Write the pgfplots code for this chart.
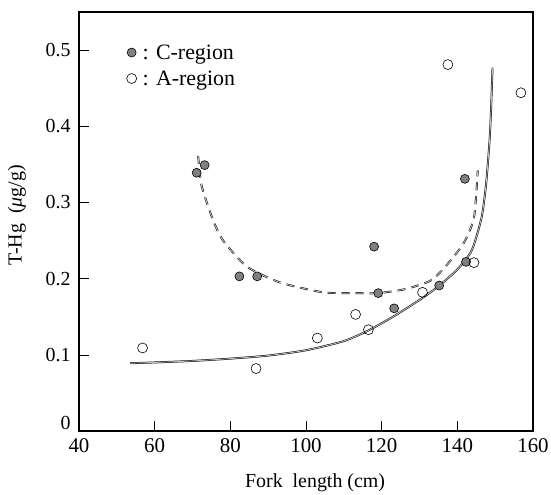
\documentclass[border=0pt]{standalone}
\usepackage{fontspec}
\setmainfont{Liberation Serif}
\usepackage{pgfplots}
\pgfplotsset{compat=1.18}

\newcommand{\xtfont}{\fontsize{21}{24}\selectfont}
\newcommand{\ytfont}{\fontsize{20}{23}\selectfont}
\newcommand{\labfont}{\fontsize{20}{23}\selectfont}
\newcommand{\legfont}{\fontsize{22}{25}\selectfont}

\begin{document}
\begin{tikzpicture}
\begin{axis}[
  scale only axis,
  width=454bp, height=419bp,
  xmin=40, xmax=160, ymin=0, ymax=0.55,
  xtick={40,60,80,100,120,140,160},
  ytick={0.1,0.2,0.3,0.4,0.5},
  extra y ticks={0},
  extra y tick style={yticklabel style={yshift=8bp}},
  tick pos=left,
  tick align=inside,
  major tick length=10bp,
  axis line style={line width=1.1pt},
  every tick/.style={black, line width=0.6pt},
  /pgf/number format/assume math mode=true,
  yticklabel style={/pgf/number format/fixed, /pgf/number format/precision=1, font=\ytfont, xshift=-5bp},
  xticklabel style={font=\xtfont, yshift=-4bp},
  xlabel={Fork\ \ length (cm)},
  ylabel={T-Hg\ \ (\textit{μ}g/g)},
  xlabel style={font=\labfont, at={(axis description cs:0.52,-0.124)}, anchor=center},
  ylabel style={font=\labfont, at={(axis description cs:-0.137,0.515)}, anchor=center},
  legend style={draw=none, fill=none, font=\legfont, at={(0.098,0.93)}, anchor=north west,
    row sep=8bp, nodes={inner sep=1pt}},
  legend cell align=left,
  clip=false,
]
% fitted trend, A-region
\addplot[forget plot, smooth, tension=0.4, line width=0.5pt, draw=black, double=black!25, double distance=0.9pt]
coordinates {
 (53.5,0.089) (60,0.090) (70,0.092) (80,0.095) (90,0.099) (100,0.106)
 (110,0.118) (116.5,0.132) (123,0.150) (130,0.172) (135,0.190) (140,0.212)
 (143.8,0.237) (146.4,0.280) (147.6,0.324) (148.5,0.380) (148.9,0.420) (149.3,0.477)
};
% fitted trend, C-region
\addplot[forget plot, smooth, tension=0.4, line width=0.5pt, draw=black, double=black!25, double distance=0.9pt,
  dash pattern=on 8bp off 6bp]
coordinates {
 (71.5,0.361) (72.4,0.322) (75.5,0.276) (78.1,0.250) (84.3,0.216) (93.1,0.195)
 (104.6,0.182) (113.4,0.181) (119,0.181) (126,0.186) (132.8,0.197) (136.7,0.215)
 (141.6,0.246) (144.4,0.280) (145.4,0.342)
};
% C-region samples
\addplot[only marks, mark=*, mark size=4.5, mark options={fill=black!50, draw=black, line width=0.6pt}]
coordinates {
 (71.1,0.339) (73.2,0.349) (82.4,0.203) (87.1,0.203) (118.0,0.242)
 (119.1,0.181) (123.3,0.161) (135.2,0.191) (142.3,0.222) (142.0,0.331)
};
\addlegendentry{\hspace{5bp}: C-region}
% A-region samples
\addplot[only marks, mark=o, mark size=5, mark options={draw=black, fill=white, line width=0.6pt}]
coordinates {
 (56.8,0.109) (86.8,0.082) (103.0,0.122) (113.1,0.153) (116.5,0.133)
 (130.8,0.182) (144.4,0.221) (137.5,0.481) (156.8,0.444)
};
\addlegendentry{\hspace{5bp}: A-region}
\end{axis}
\pgfresetboundingbox
\path (-79bp,-64bp) rectangle (472bp,431bp);
\end{tikzpicture}
\end{document}
